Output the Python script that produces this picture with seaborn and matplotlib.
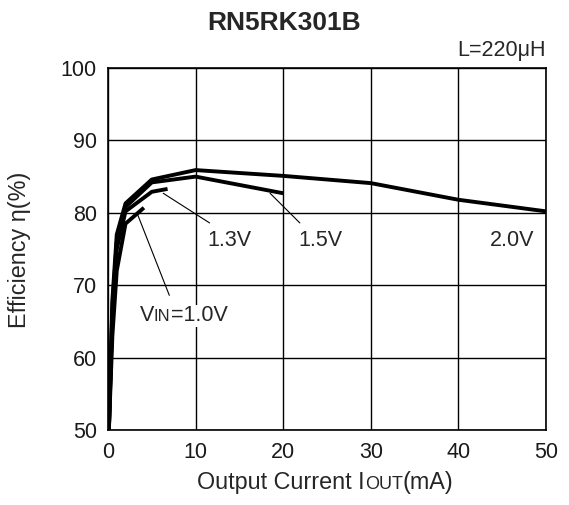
import matplotlib
matplotlib.use("Agg")
import matplotlib.pyplot as plt
import pandas as pd
import seaborn as sns

# efficiency curves (Iout in mA, eta in %)
VIN_LABELS = ["1.0V", "1.3V", "1.5V", "2.0V"]
IOUT_10 = [0.1, 0.5, 1, 2, 4.1]
EFF_10 = [50, 63, 72, 78.5, 80.7]
IOUT_13 = [0.1, 0.5, 1, 2, 5, 6.8]
EFF_13 = [50, 66, 75, 80.2, 82.9, 83.3]
IOUT_15 = [0.1, 0.5, 1, 2, 5, 10, 20]
EFF_15 = [50, 67, 76, 80.8, 84.2, 85.0, 82.7]
IOUT_20 = [0.1, 0.5, 1, 2, 5, 10, 20, 30, 40, 50]
EFF_20 = [50, 68, 77, 81.3, 84.6, 85.9, 85.1, 84.1, 81.8, 80.2]

X_TICKS = [0, 10, 20, 30, 40, 50]
Y_TICKS = [50, 60, 70, 80, 90, 100]

FONT = 15.5
LABEL_FONT = 16.8
WHITE = dict(facecolor="white", edgecolor="none", pad=0.5)


def build_frame() -> pd.DataFrame:
    parts = []
    for vin, xs, ys in zip(VIN_LABELS, [IOUT_10, IOUT_13, IOUT_15, IOUT_20],
                           [EFF_10, EFF_13, EFF_15, EFF_20]):
        parts.append(pd.DataFrame({"iout": xs, "eff": ys, "vin": vin}))
    return pd.concat(parts, ignore_index=True)


def main() -> None:
    sns.set_theme(style="white")
    plt.rcParams["font.family"] = ["Liberation Sans", "DejaVu Sans"]

    data = build_frame()
    fig = plt.figure(figsize=(5.69, 5.05), dpi=100)
    ax = fig.add_axes([108 / 569, 1 - 430 / 505, 438 / 569, 362 / 505])

    sns.lineplot(data=data, x="iout", y="eff", hue="vin", units="vin",
                 estimator=None, sort=False, palette=["black"] * 4,
                 linewidth=2.8, legend=False, ax=ax, solid_capstyle="butt")

    ax.set_xlim(0, 50)
    ax.set_ylim(50, 100)
    ax.set_xticks(X_TICKS)
    ax.set_yticks(Y_TICKS)
    ax.grid(True, color="black", linewidth=1.0)
    for spine in ax.spines.values():
        spine.set_color("black")
        spine.set_linewidth(1.2)
    ax.tick_params(length=0, labelsize=FONT, colors="#1a1a1a")
    ax.tick_params(axis="x", pad=9)
    ax.tick_params(axis="y", pad=8)
    ax.set_xlabel("")
    ax.set_ylabel("")

    # pointer lines and curve labels
    ax.plot([6.3, 11.6], [82.7, 78.6], color="black", linewidth=0.8)
    ax.plot([18.5, 21.9], [82.7, 78.6], color="black", linewidth=0.8)
    ax.plot([3.4, 7.0], [79.7, 68.6], color="black", linewidth=0.8)
    ax.text(11.3, 76.2, "1.3V", fontsize=FONT, va="center", ha="left", bbox=WHITE)
    ax.text(21.7, 76.2, "1.5V", fontsize=FONT, va="center", ha="left", bbox=WHITE)
    ax.text(43.6, 76.2, "2.0V", fontsize=FONT, va="center", ha="left", bbox=WHITE)

    v = ax.text(3.6, 65.0, "V", fontsize=FONT, va="baseline", ha="left", bbox=WHITE)
    sub = ax.annotate("IN", xy=(1, 65.0), xycoords=(v, "data"),
                      fontsize=12, va="baseline", ha="left", bbox=WHITE)
    ax.annotate("=1.0V", xy=(1, 65.0), xycoords=(sub, "data"),
                fontsize=FONT, va="baseline", ha="left", bbox=WHITE)

    ax.text(1.0, 1.02, "L=220\u03bcH", transform=ax.transAxes,
            fontsize=FONT, ha="right", va="bottom")
    fig.text(0.5, 1 - 23 / 505, "RN5RK301B", fontsize=19,
             fontweight="bold", ha="center", va="center")

    fig.text(20 / 569, 1 - 250 / 505, "Efficiency \u03b7(%)", fontsize=LABEL_FONT,
             rotation=90, ha="center", va="center")

    base = 1 - 489 / 505
    t1 = fig.text(197 / 569, base, "Output Current I", fontsize=LABEL_FONT,
                  ha="left", va="baseline")
    t2 = ax.annotate("OUT", xy=(1, base), xycoords=(t1, "figure fraction"),
                     fontsize=13, ha="left", va="baseline")
    ax.annotate("(mA)", xy=(1, base), xycoords=(t2, "figure fraction"),
                fontsize=LABEL_FONT, ha="left", va="baseline")

    fig.savefig("out.png", dpi=100)
    plt.close(fig)


if __name__ == "__main__":
    main()
